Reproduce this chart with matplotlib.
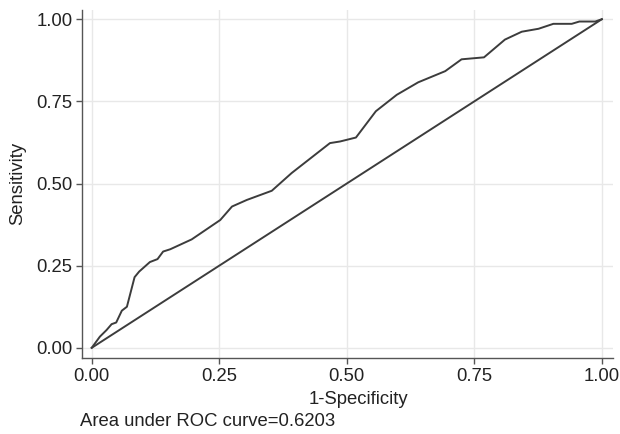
import matplotlib.pyplot as plt

plt.rcParams['font.family'] = ['Liberation Sans', 'DejaVu Sans']

# ROC curve points
fpr = [0.0, 0.016, 0.029, 0.039, 0.048, 0.059, 0.069, 0.084, 0.093, 0.114,
       0.129, 0.140, 0.154, 0.196, 0.252, 0.275, 0.304, 0.353, 0.392, 0.467,
       0.487, 0.518, 0.557, 0.598, 0.640, 0.693, 0.725, 0.769, 0.810, 0.843,
       0.876, 0.905, 0.941, 0.956, 0.987, 1.0]
tpr = [0.0, 0.034, 0.054, 0.072, 0.077, 0.113, 0.125, 0.215, 0.232, 0.261,
       0.270, 0.293, 0.300, 0.330, 0.389, 0.430, 0.450, 0.478, 0.532, 0.623,
       0.628, 0.640, 0.720, 0.770, 0.808, 0.842, 0.878, 0.884, 0.938, 0.962,
       0.971, 0.986, 0.986, 0.993, 0.993, 1.0]
ref_line = [0, 1]
ticks = [0.0, 0.25, 0.5, 0.75, 1.0]
tick_labels = ["0.00", "0.25", "0.50", "0.75", "1.00"]
auc_text = "Area under ROC curve=0.6203"

fs = 13.3
txt_col = "#222222"

fig = plt.figure(figsize=(6.2, 4.34), dpi=100)
ax = fig.add_axes([0.1323, 0.1751, 0.8565, 0.8018])

line_col = "#3c3c3c"
ax.plot(fpr, tpr, color=line_col, lw=1.4, zorder=3)
ax.plot(ref_line, ref_line, color=line_col, lw=1.4, zorder=3)

ax.set_xlim(-0.019, 1.022)
ax.set_ylim(-0.031, 1.028)
ax.set_xticks(ticks)
ax.set_xticklabels(tick_labels)
ax.set_yticks(ticks)
ax.set_yticklabels(tick_labels)
ax.grid(True, color="#e8e8e8", lw=1.0, zorder=0)

for s in ["top", "right"]:
    ax.spines[s].set_visible(False)
for s in ["left", "bottom"]:
    ax.spines[s].set_color("#555555")
    ax.spines[s].set_linewidth(1.0)
ax.tick_params(colors="#555555", labelcolor=txt_col, length=4, width=1.0,
               labelsize=fs, direction="out", pad=3)

# axis titles placed like the Stata layout
fig.text(358 / 620, 1 - 400 / 434, "1-Specificity", fontsize=fs, color=txt_col,
         ha="center", va="center")
fig.text(18 / 620, 1 - 183 / 434, "Sensitivity", fontsize=fs, color=txt_col,
         ha="center", va="center", rotation=90)
fig.text(80 / 620, 1 - 421 / 434, auc_text, fontsize=fs, color=txt_col,
         ha="left", va="center")

fig.savefig("out.png", dpi=100)
